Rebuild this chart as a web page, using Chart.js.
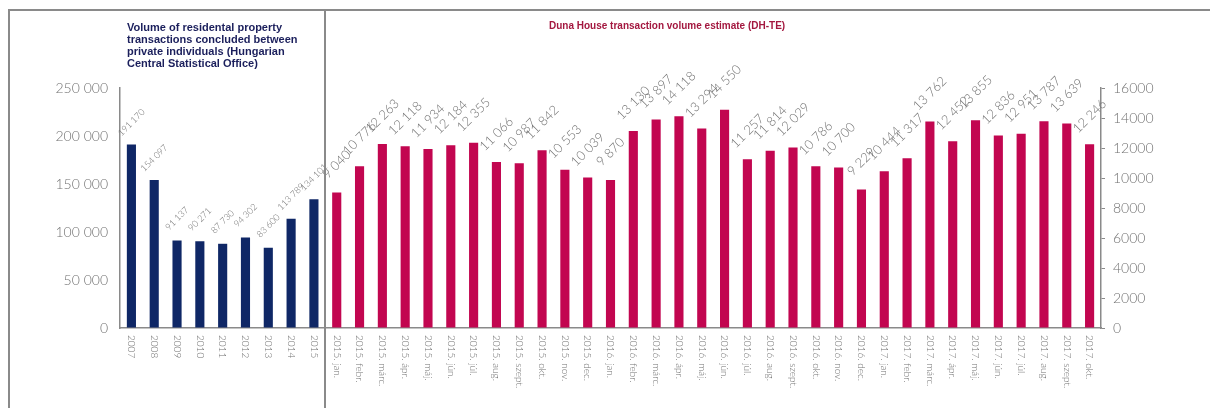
<!DOCTYPE html>
<html>
<head>
<meta charset="utf-8">
<script src="https://cdn.jsdelivr.net/npm/chart.js@4"></script>
<style>
  html, body { margin: 0; padding: 0; background: #fff; }
  #wrap { position: relative; width: 1210px; height: 408px; overflow: hidden; }
  #chart { position: absolute; left: 0; top: 0; }
  .line { position: absolute; background: #8a8a8a; }
  .title-left {
    position: absolute; left: 127px; top: 21px; width: 200px;
    font: bold 11px "Liberation Sans", Arial, sans-serif; line-height: 12px;
    color: #1b1f5c;
  }
  .title-right {
    position: absolute; left: 549px; top: 20px; width: 430px;
    font: bold 10px "Liberation Sans", Arial, sans-serif;
    color: #a3173f;
  }
</style>
</head>
<body>
<div id="wrap">
  <canvas id="chart" width="1210" height="408"></canvas>
  <div class="line" style="left:8px;top:9px;width:1202px;height:1.5px"></div>
  <div class="line" style="left:8px;top:9px;width:1.5px;height:399px"></div>
  <div class="line" style="left:324px;top:9px;width:1.5px;height:399px"></div>
  <div class="title-left">Volume of residental property<br>transactions concluded between<br>private individuals (Hungarian<br>Central Statistical Office)</div>
  <div class="title-right">Duna House transaction volume estimate (DH-TE)</div>
</div>
<script>
// annual data (KSH), left axis
const years = ['2007', '2008', '2009', '2010', '2011', '2012', '2013', '2014', '2015'];
const yearValues = [191170, 154097, 91137, 90271, 87730, 94302, 83600, 113789, 134101];

// monthly data (DH-TE), right axis
const months = [
  '2015. jan.', '2015. febr.', '2015. márc.', '2015. ápr.', '2015. máj.', '2015. jún.',
  '2015. júl.', '2015. aug.', '2015. szept.', '2015. okt.', '2015. nov.', '2015. dec.',
  '2016. jan.', '2016. febr.', '2016. márc.', '2016. ápr.', '2016. máj.', '2016. jún.',
  '2016. júl.', '2016. aug.', '2016. szept.', '2016. okt.', '2016. nov.', '2016. dec.',
  '2017. jan.', '2017. febr.', '2017. márc.', '2017. ápr.', '2017. máj.', '2017. jún.',
  '2017. júl.', '2017. aug.', '2017. szept.', '2017. okt.'
];
const monthValues = [
  9040, 10776, 12263, 12118, 11934, 12184, 12355, 11066, 10987, 11842, 10553, 10039,
  9870, 13130, 13897, 14118, 13294, 14550, 11257, 11814, 12029, 10786, 10700, 9229,
  10444, 11317, 13762, 12452, 13855, 12836, 12951, 13787, 13639, 12246
];

const labels = years.concat(months);
const annualData = yearValues.concat(months.map(() => null));
const monthlyData = years.map(() => null).concat(monthValues);

const lightFont = 'Lato, "DejaVu Sans", sans-serif';

function spaced(n) {
  return String(n).replace(/\B(?=(\d{3})+(?!\d))/g, ' ');
}

// rotated value labels above bars
const valueLabels = {
  id: 'valueLabels',
  afterDatasetsDraw(chart) {
    const ctx = chart.ctx;
    chart.data.datasets.forEach((ds, i) => {
      const meta = chart.getDatasetMeta(i);
      const small = i === 0;
      meta.data.forEach((bar, j) => {
        const v = ds.data[j];
        if (v === null) return;
        ctx.save();
        ctx.translate(bar.x, bar.y - (small ? 22 : 28));
        ctx.rotate(-Math.PI / 4);
        ctx.font = (small ? '300 9px ' : '300 13px ') + lightFont;
        ctx.fillStyle = '#727272';
        ctx.textAlign = 'center';
        ctx.textBaseline = 'middle';
        ctx.fillText(spaced(v), 0, 0);
        ctx.restore();
      });
    });
  }
};

// category labels reading top to bottom
const xLabels = {
  id: 'xLabels',
  afterDraw(chart) {
    const ctx = chart.ctx;
    const xs = chart.scales.x;
    const top = chart.chartArea.bottom + 7;
    chart.data.labels.forEach((lab, i) => {
      ctx.save();
      ctx.translate(xs.getPixelForValue(i), top);
      ctx.rotate(Math.PI / 2);
      ctx.font = '300 10px ' + lightFont;
      ctx.fillStyle = '#727272';
      ctx.textAlign = 'left';
      ctx.textBaseline = 'middle';
      ctx.fillText(lab, 0, 0);
      ctx.restore();
    });
  }
};

const ctx = document.getElementById('chart').getContext('2d');

const config = {
  type: 'bar',
  data: {
    labels: labels,
    datasets: [
      {
        data: annualData,
        backgroundColor: '#0f2766',
        yAxisID: 'yL',
        grouped: false,
        barPercentage: 0.4,
        categoryPercentage: 1
      },
      {
        data: monthlyData,
        backgroundColor: '#c20650',
        yAxisID: 'yR',
        grouped: false,
        barPercentage: 0.4,
        categoryPercentage: 1
      }
    ]
  },
  options: {
    responsive: false,
    animation: false,
    devicePixelRatio: 1,
    layout: { padding: { top: 88, left: 0, right: 0, bottom: 0 } },
    plugins: {
      legend: { display: false },
      tooltip: { enabled: false }
    },
    scales: {
      x: {
        grid: { display: false },
        border: { display: true, color: '#8a8a8a', width: 1.5 },
        ticks: { display: false },
        afterFit: (s) => { s.height = 80; }
      },
      yL: {
        position: 'left',
        min: 0,
        max: 250000,
        grid: { display: true, drawOnChartArea: false, drawTicks: false },
        border: { display: true, color: '#8a8a8a', width: 1.5 },
        ticks: {
          stepSize: 50000,
          padding: 12,
          color: '#727272',
          font: { family: lightFont, size: 14, weight: 300 },
          callback: (v) => spaced(v)
        },
        afterFit: (s) => { s.width = 120; }
      },
      yR: {
        position: 'right',
        min: 0,
        max: 16000,
        grid: { display: true, drawOnChartArea: false, drawTicks: true, tickLength: 4, color: '#8a8a8a' },
        border: { display: true, color: '#8a8a8a', width: 1.5 },
        ticks: {
          stepSize: 2000,
          padding: 8,
          color: '#727272',
          font: { family: lightFont, size: 14, weight: 300 },
          callback: (v) => String(v)
        },
        afterFit: (s) => { s.width = 109; }
      }
    }
  },
  plugins: [valueLabels, xLabels]
};

const myChart = new Chart(ctx, config);
</script>
</body>
</html>
